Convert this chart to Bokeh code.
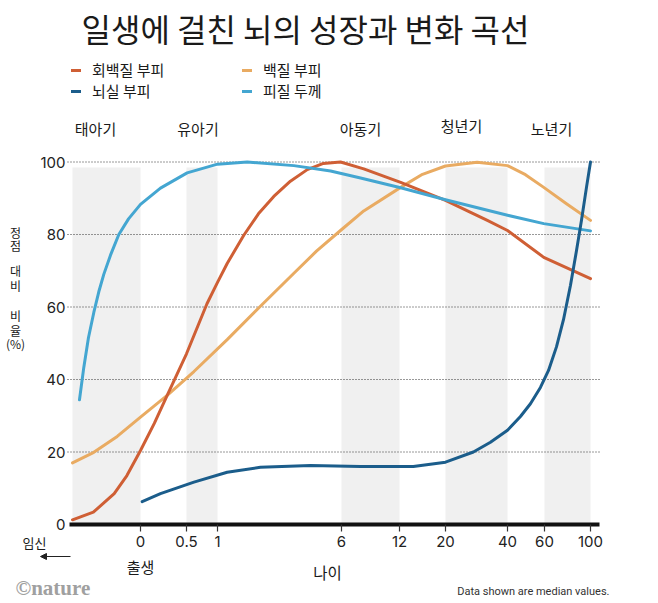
import numpy as np
from bokeh.plotting import figure
from bokeh.models import (FixedTicker, Label, Legend, LegendItem, Arrow, NormalHead, Range1d)
from bokeh.embed import file_html
from bokeh.resources import INLINE

# ---------------- data ----------------
# axis scale: age (years; negative = before birth) -> axis position
SCALE_AGES = [-0.75, 0, 0.5, 1, 6, 12, 20, 40, 60, 100]
SCALE_POS = [0, 68, 114, 145, 269, 327, 373, 435, 472, 518]

TICK_AGES = [0, 0.5, 1, 6, 12, 20, 40, 60, 100]
TICK_LABELS = ["0", "0.5", "1", "6", "12", "20", "40", "60", "100"]
Y_TICKS = [0, 20, 40, 60, 80, 100]

STAGE_NAMES = ["태아기", "유아기", "아동기", "청년기", "노년기"]
BAND_START = [-0.75, 0.5, 6, 20, 60]
BAND_END = [0, 1, 12, 40, 100]

# 회백질 부피 (grey matter volume)
gm_age = [-0.75, -0.52, -0.29, -0.15, 0, 0.15, 0.29, 0.5, 0.83, 1, 1.39, 2.06, 2.65,
          3.27, 3.94, 4.62, 5.27, 5.96, 8.3, 12.2, 20, 33.5, 40, 59.6, 100]
gm_val = [1.3, 3.4, 8.5, 13.5, 20.4, 27.9, 35.6, 47.1, 60.9, 66.8, 72.0, 79.8, 85.7,
          90.5, 94.7, 97.9, 99.6, 100, 98.1, 94.4, 89.4, 83.9, 81.1, 73.7, 67.8]

# 백질 부피 (white matter volume)
wm_age = [-0.75, -0.515, -0.257, 0, 0.29, 0.62, 1.39, 2.73, 4.08, 4.99, 5.96, 8.3,
          12.2, 16, 20, 30.2, 40, 49.7, 59.6, 79.1, 100]
wm_val = [17.0, 19.9, 24.3, 29.6, 35.6, 42.2, 51.0, 60.2, 69.3, 75.4, 81.1, 86.5,
          93.0, 96.6, 98.9, 99.9, 99.0, 96.5, 93.0, 88.5, 83.9]

# 뇌실 부피 (ventricular volume)
vv_age = [0.018, 0.217, 0.62, 1.39, 2.73, 4.75, 7.97, 14.4, 20, 29.0, 34.5, 40, 47.0,
          52.4, 57.8, 63.5, 70.4, 76.5, 82.6, 87.8, 92.2, 96.5, 100]
vv_val = [6.3, 8.5, 11.7, 14.4, 15.8, 16.3, 16.0, 16.0, 17.2, 20.0, 22.7, 26.0, 29.8,
          33.3, 37.8, 42.5, 49.0, 56.5, 66.0, 75.5, 84.0, 93.0, 100]

# 피질 두께 (cortical thickness)
ct_age = [-0.673, -0.625, -0.574, -0.515, -0.46, -0.405, -0.331, -0.239, -0.132, 0,
          0.217, 0.51, 1, 2.2, 4.08, 5.56, 7.97, 12.2, 20, 40, 59.6, 100]
ct_val = [34.4, 43.4, 51.5, 58.5, 64.2, 69.0, 74.3, 80.0, 84.3, 88.3,
          92.8, 97.0, 99.4, 100, 99.0, 97.5, 95.6, 92.9, 89.6, 85.3, 83.0, 81.0]

# ---------------- layout helpers ----------------
W, H = 650, 600
PX_PER_UNIT = 3.625
ORIGIN_X = 72     # page x of conception
ORIGIN_Y = 524    # page y of value 0


def dx(page_x):
    return page_x - ORIGIN_X


def dy(page_y):
    return (ORIGIN_Y - page_y) / PX_PER_UNIT


def xpos(ages):
    return np.interp(ages, SCALE_AGES, SCALE_POS)


KR = "Noto Sans CJK KR"
NUM = "Inter"

C_GM = "#cf5f35"
C_WM = "#e9ab62"
C_VV = "#1b5d8b"
C_CT = "#44a6d1"

p = figure(width=W, height=H,
           x_range=Range1d(dx(0), dx(W)), y_range=Range1d(dy(H), dy(0)),
           output_backend="svg", toolbar_location=None, title=None,
           min_border=0, min_border_left=0, min_border_right=0,
           min_border_top=0, min_border_bottom=0)
p.outline_line_color = None
p.xgrid.visible = False
p.ygrid.visible = False

# stage bands
p.quad(left=xpos(BAND_START), right=xpos(BAND_END), bottom=0, top=98.5,
       fill_color="#f0f0f0", line_color=None, level="image")

# dotted grid lines
gy = Y_TICKS[1:]
p.segment(x0=[dx(67)] * len(gy), x1=[dx(599)] * len(gy), y0=gy, y1=gy,
          line_color="#333333", line_width=1, line_dash="1 2", level="underlay")

# curves
common = dict(line_width=3, line_cap="round", line_join="round")
r_wm = p.line(xpos(wm_age), wm_val, line_color=C_WM, **common)
r_gm = p.line(xpos(gm_age), gm_val, line_color=C_GM, **common)
r_ct = p.line(xpos(ct_age), ct_val, line_color=C_CT, **common)
r_vv = p.line(xpos(vv_age), vv_val, line_color=C_VV, **common)

# axes (drawn at fixed data locations)
xa = p.xaxis[0]
tick_pos = [float(v) for v in xpos(TICK_AGES)]
xa.fixed_location = 0
xa.bounds = (dx(69), dx(599))
xa.ticker = FixedTicker(ticks=tick_pos)
xa.major_label_overrides = {t: lab for t, lab in zip(tick_pos, TICK_LABELS)}
xa.axis_line_width = 4
xa.axis_line_color = "#111111"
xa.major_tick_out = 7
xa.major_tick_in = 0
xa.major_tick_line_color = "#333333"
xa.major_tick_line_width = 1.2
xa.minor_tick_line_color = None
xa.major_label_standoff = 4
xa.major_label_text_font = NUM
xa.major_label_text_font_size = "15px"
xa.major_label_text_color = "#222222"

ya = p.yaxis[0]
ya.fixed_location = dx(70)
ya.bounds = (0, 100)
ya.ticker = FixedTicker(ticks=Y_TICKS)
ya.axis_line_color = None
ya.major_tick_line_color = None
ya.minor_tick_line_color = None
ya.major_tick_out = 0
ya.major_tick_in = 0
ya.major_label_standoff = 5
ya.major_label_text_font = NUM
ya.major_label_text_font_size = "15px"
ya.major_label_text_color = "#222222"


def label(text, px, py, size, align="left", font=KR, color="#1a1a1a", style="normal"):
    p.add_layout(Label(x=dx(px), y=dy(py), text=text, text_font=font,
                       text_font_size=size, text_align=align,
                       text_baseline="middle", text_color=color,
                       text_font_style=style))


# title
label("일생에 걸친 뇌의 성장과 변화 곡선", 81, 27, "32px")

# stage labels
STAGE_X = [95, 197.5, 360, 461, 551]
STAGE_Y = [128, 128, 128, 125, 128]
for name, sx, sy in zip(STAGE_NAMES, STAGE_X, STAGE_Y):
    label(name, sx, sy, "15px", align="center")

# stacked y-axis title
for ch, py in zip(["정", "점", "대", "비", "비", "율", "(%)"],
                  [232, 245, 270, 285, 315, 330, 343]):
    label(ch, 15, py, "12px", align="center")

# bottom annotations
label("임신", 34, 542, "13px", align="center")
label("출생", 140, 566, "15px", align="center")
label("나이", 327, 571, "15.5px", align="center")
label("©nature", 15, 587, "21px", font="Liberation Serif", color="#a0a0a0", style="bold")
label("Data shown are median values.", 609, 591, "11px", align="right", font="Roboto",
      color="#333333")

p.add_layout(Arrow(end=NormalHead(size=6, fill_color="#222222", line_color="#222222"),
                   x_start=dx(70), y_start=dy(556), x_end=dx(40), y_end=dy(556),
                   line_color="#222222", line_width=1))

# legends
leg_common = dict(glyph_width=10, glyph_height=18, label_height=18, label_standoff=11,
                  spacing=0, padding=0, margin=0, border_line_color=None,
                  background_fill_alpha=0, label_text_font=KR,
                  label_text_font_size="15px", label_text_color="#1a1a1a")
leg1 = Legend(items=[LegendItem(label="회백질 부피", renderers=[r_gm]),
                     LegendItem(label="뇌실 부피", renderers=[r_vv])],
              location=(71, H - 101), **leg_common)
leg2 = Legend(items=[LegendItem(label="백질 부피", renderers=[r_wm]),
                     LegendItem(label="피질 두께", renderers=[r_ct])],
              location=(242, H - 101), **leg_common)
p.add_layout(leg1)
p.add_layout(leg2)

open("out.html", "w").write(file_html(p, INLINE))
